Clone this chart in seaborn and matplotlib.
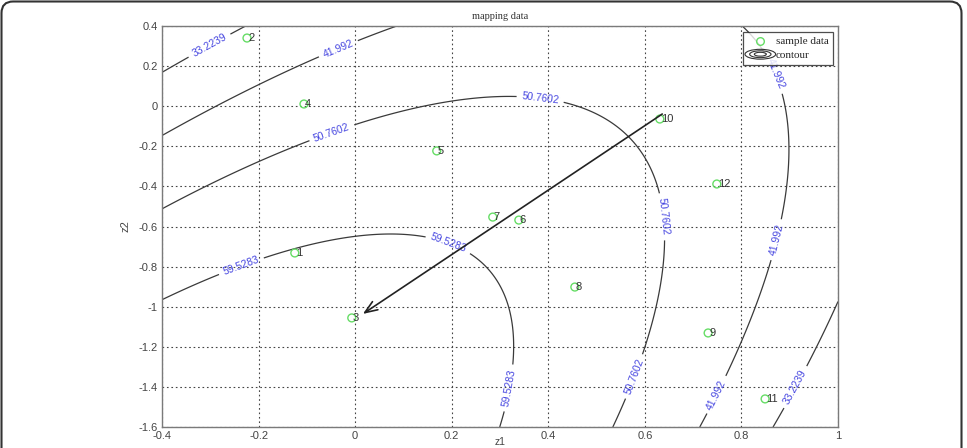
import numpy as np
import pandas as pd
import seaborn as sns
import matplotlib
matplotlib.use("Agg")
import matplotlib.pyplot as plt
from matplotlib.patches import Ellipse, FancyBboxPatch
from matplotlib.legend_handler import HandlerBase

# sample points (id, z1, z2)
point_ids = [1, 2, 3, 4, 5, 6, 7, 8, 9, 10, 11, 12]
z1_vals = [-0.125, -0.224, -0.007, -0.106, 0.169, 0.339, 0.285, 0.455, 0.731, 0.631, 0.849, 0.749]
z2_vals = [-0.732, 0.340, -1.056, 0.011, -0.223, -0.568, -0.553, -0.902, -1.131, -0.064, -1.460, -0.388]

# contour levels shown in the chart
levels = [33.2239, 41.992, 50.7602, 59.5283]

# points (level, z1, z2), used to rebuild the surface
trace_level = ([33.2239] * 6 + [41.992] * 10 + [50.7602] * 10 + [59.5283] * 11)
trace_z1 = [-0.40, -0.23, -0.30, 1.00, 0.866, 0.911,
            -0.40, -0.29, -0.114, 0.078, 0.884, 0.899, 0.874, 0.828, 0.797, 0.714,
            -0.40, -0.191, 0.004, 0.196, 0.30, 0.441, 0.60, 0.638, 0.60, 0.534,
            -0.40, -0.30, -0.183, -0.10, 0.0, 0.097, 0.238, 0.321, 0.327, 0.31, 0.30]
trace_z2 = [0.17, 0.40, 0.295, -0.99, -1.60, -1.40,
            -0.144, 0.0, 0.20, 0.40, 0.046, -0.268, -0.667, -0.967, -1.20, -1.60,
            -0.513, -0.268, -0.094, 0.031, 0.051, 0.011, -0.268, -0.682, -1.23, -1.60,
            -0.967, -0.852, -0.752, -0.692, -0.647, -0.632, -0.742, -1.006, -1.20, -1.45, -1.60]

# where the inline contour labels sit
label_spots = [(-0.30, 0.295), (0.911, -1.40),
               (-0.031, 0.265), (0.855, 0.146), (0.874, -0.667), (0.749, -1.44),
               (-0.048, -0.134), (0.383, 0.031), (0.631, -0.553), (0.58, -1.35),
               (-0.238, -0.782), (0.193, -0.687), (0.317, -1.405)]

arrow_start = (0.636, -0.039)
arrow_end = (0.016, -1.036)


class ContourIcon:
    pass


class ContourIconHandler(HandlerBase):
    def create_artists(self, legend, orig_handle, xdescent, ydescent, width, height, fontsize, trans):
        cx = width / 2 - xdescent
        cy = height / 2 - ydescent
        arts = []
        for f in (1.15, 0.8, 0.45):
            arts.append(Ellipse((cx, cy), width * f, height * f * 1.1, fill=False,
                                ec='#333333', lw=0.8, transform=trans))
        return arts


def fit_surface(lv, x, y):
    x = np.asarray(x)
    y = np.asarray(y)
    A = np.column_stack([np.ones_like(x), x, y, x * x, x * y, y * y])
    coef, *_ = np.linalg.lstsq(A, np.asarray(lv), rcond=None)
    return coef


def main():
    sns.set_style("white")
    plt.rcParams['font.family'] = ['Liberation Sans', 'DejaVu Sans']

    fig = plt.figure(figsize=(9.67, 4.48), dpi=100)
    ax = fig.add_axes([162 / 967, 21 / 448, 676 / 967, 401 / 448])

    # outer frame of the screenshot
    frame = FancyBboxPatch((1.5 / 967, -0.2), 960 / 967, 1.2 - 1.5 / 448,
                           boxstyle="round,pad=0,rounding_size=0.012", mutation_aspect=967 / 448,
                           transform=fig.transFigure, fill=False, ec='#333333', lw=1.5)
    fig.patches.append(frame)

    coef = fit_surface(trace_level, trace_z1, trace_z2)
    gx, gy = np.meshgrid(np.linspace(-0.4, 1.0, 300), np.linspace(-1.6, 0.4, 300))
    gz = (coef[0] + coef[1] * gx + coef[2] * gy + coef[3] * gx ** 2
          + coef[4] * gx * gy + coef[5] * gy ** 2)

    cs = ax.contour(gx, gy, gz, levels=levels, colors='#3a3a3a', linewidths=0.9)
    fmt = {lv: (f'{lv:.4f}'.rstrip('0') if lv != 41.992 else '41.992') for lv in levels}
    ax.clabel(cs, levels, fmt=fmt, manual=label_spots, inline=True, fontsize=7.5,
              colors='#4646e0')

    df = pd.DataFrame({'id': point_ids, 'z1': z1_vals, 'z2': z2_vals})
    sns.scatterplot(data=df, x='z1', y='z2', ax=ax, marker='o', s=32,
                    facecolors='none', edgecolor='#66dd66', linewidth=1.0, zorder=3)
    for _, row in df.iterrows():
        ax.text(row['z1'] + 0.002, row['z2'], str(int(row['id'])), fontsize=8,
                color='#333333', ha='left', va='center', zorder=4)

    ax.annotate('', xy=arrow_end, xytext=arrow_start,
                arrowprops=dict(arrowstyle='->,head_length=0.9,head_width=0.35',
                                lw=1.2, color='#222222', shrinkA=0, shrinkB=0), zorder=5)

    ax.set_xlim(-0.4, 1.0)
    ax.set_ylim(-1.6, 0.4)
    ax.set_xticks(np.arange(-0.4, 1.01, 0.2))
    ax.set_yticks(np.arange(-1.6, 0.41, 0.2))
    ax.set_xticklabels(['-0.4', '-0.2', '0', '0.2', '0.4', '0.6', '0.8', '1'])
    ax.set_yticklabels(['-1.6', '-1.4', '-1.2', '-1', '-0.8', '-0.6', '-0.4', '-0.2', '0', '0.2', '0.4'])
    ax.grid(True, linestyle=(0, (1.5, 2.5)), color='#444444', linewidth=0.8)
    ax.tick_params(direction='in', length=3, labelsize=8, colors='#555555', labelcolor='#444444', pad=3)
    for sp in ax.spines.values():
        sp.set_color('#7a7a7a')
        sp.set_linewidth(1.0)

    ax.set_xlabel('z1', fontsize=7.5, color='#444444', va='bottom')
    ax.xaxis.set_label_coords(0.5, -0.05)
    ax.set_ylabel('z2', fontsize=8, color='#444444', labelpad=6)
    ax.set_title('mapping data', fontsize=7.5, color='#333333', family='Liberation Serif', pad=5)

    sample_handle = plt.Line2D([], [], marker='o', ls='', mfc='none', mec='#66dd66', ms=5.5)
    leg = ax.legend([sample_handle, ContourIcon()], ['sample data', 'contour'],
                    handler_map={ContourIcon: ContourIconHandler()},
                    loc='upper right', bbox_to_anchor=(0.996, 0.99), frameon=True,
                    prop={'family': 'Liberation Serif', 'size': 8}, handlelength=2.4,
                    handletextpad=0.2, borderpad=0.4, labelspacing=0.35, borderaxespad=0.2,
                    fancybox=False)
    leg.get_frame().set_edgecolor('#222222')
    leg.get_frame().set_linewidth(0.9)

    fig.savefig('out.png', dpi=100)


if __name__ == "__main__":
    main()
